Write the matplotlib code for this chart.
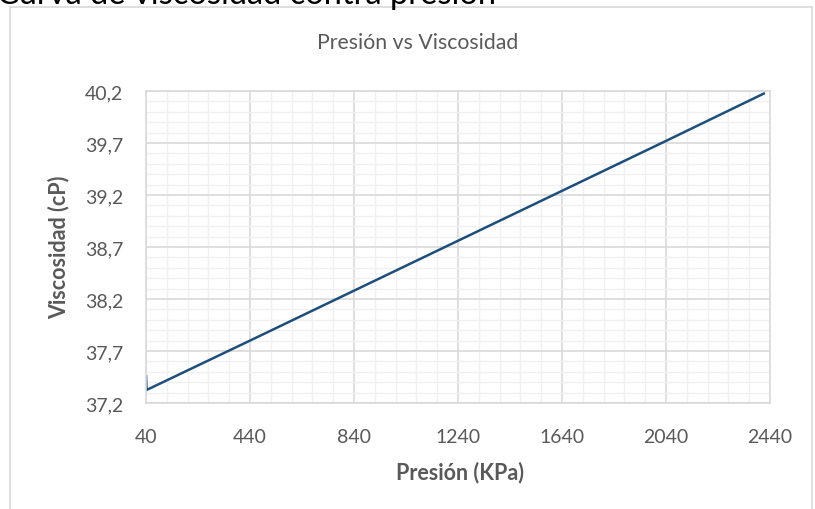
import matplotlib.pyplot as plt
from matplotlib.ticker import FuncFormatter
from matplotlib.patches import Rectangle

# datos
presion = [40, 42, 440, 840, 1240, 1640, 2040, 2420]
viscosidad = [37.47, 37.325, 37.80, 38.28, 38.76, 39.24, 39.72, 40.18]

plt.rcParams['font.family'] = ['Lato', 'DejaVu Sans']

fig = plt.figure(figsize=(8.15, 5.1), dpi=100)
ax = fig.add_axes([146/815, 1-404/510, (770-146)/815, (404-92)/510])

# marco del grafico y texto de arriba cortado
fig.patches.append(Rectangle((10/815, -0.05), (812-10)/815, 1.05-8/510,
                             transform=fig.transFigure, fill=False,
                             edgecolor='#d9d9d9', linewidth=1.2))
fig.text(-0.004, 1 - 4.5/510, 'Curva de viscosidad contra presión', fontsize=23.5,
         color='black', va='baseline', ha='left')

ax.plot(presion, viscosidad, color='#1f4e79', linewidth=1.8, solid_capstyle='butt')

ax.set_xlim(40, 2440)
ax.set_ylim(37.2, 40.2)
ax.set_xticks([40, 440, 840, 1240, 1640, 2040, 2440])
ax.set_xticks([40 + 80*i for i in range(31)], minor=True)
ax.set_yticks([37.2 + 0.5*i for i in range(7)])
ax.set_yticks([37.2 + 0.1*i for i in range(31)], minor=True)
ax.yaxis.set_major_formatter(FuncFormatter(lambda v, p: f'{v:.1f}'.replace('.', ',')))

ax.grid(which='major', color='#d9d9d9', linewidth=1.2)
ax.grid(which='minor', color='#f0f0f0', linewidth=1.0)
ax.set_axisbelow(True)
for s in ax.spines.values():
    s.set_color('#d9d9d9')
    s.set_linewidth(1.2)
ax.tick_params(which='both', length=0, labelsize=14, colors='#595959')
ax.tick_params(axis='y', pad=16.5)
ax.tick_params(axis='x', pad=18)

fig.text(418/815, 1 - 43/510, 'Presión vs Viscosidad', fontsize=15.3,
         color='#595959', ha='center', va='center')
fig.text(460/815, 1 - 473/510, 'Presión (KPa)', fontsize=15.5, fontweight='bold',
         color='#595959', ha='center', va='center')
fig.text(59/815, 1 - 247/510, 'Viscosidad (cP)', fontsize=15.5, fontweight='bold',
         color='#595959', ha='center', va='center', rotation=90)

fig.savefig('out.png', dpi=100)
